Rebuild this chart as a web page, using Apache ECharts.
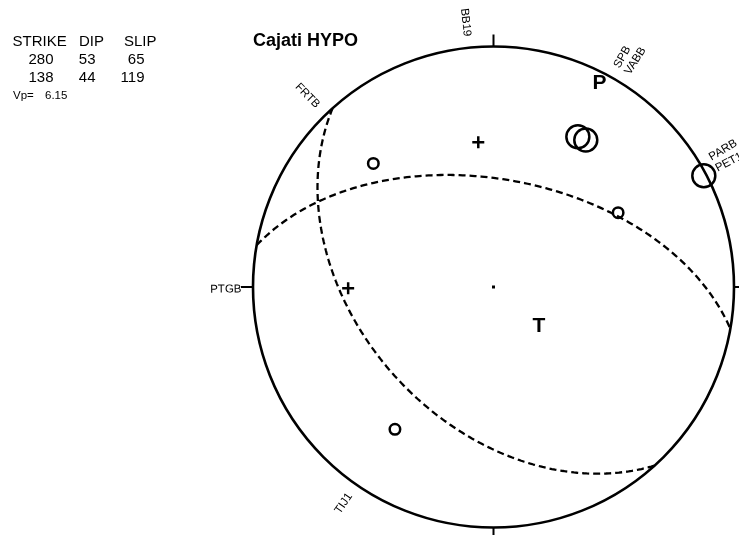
<!DOCTYPE html>
<html>
<head>
<meta charset="utf-8">
<script src="https://cdn.jsdelivr.net/npm/echarts@6/dist/echarts.min.js"></script>
<style>html,body{margin:0;padding:0;background:#fff}#c{width:739px;height:535px}</style>
</head>
<body>
<div id="c"></div>
<script>
// ---- data ----
const chartTitle = 'Cajati HYPO';
const tableHeaders = ['STRIKE', 'DIP', 'SLIP'];
const strikes = [280, 138];
const dips = [53, 44];
const slips = [65, 119];
const vpLabel = 'Vp=';
const vpValue = '6.15';
const stations = ['BB19', 'FRTB', 'SPB', 'VABB', 'PARB', 'PET1', 'PTGB', 'TIJ1'];
const azimuths = [354.0, 315.8, 29.3, 32.1, 59.2, 62.1, 269.5, 214.7];
const takeoffs = [50.7, 60.9, 60.9, 61.4, 50.5, 88.8, 50.6, 61.2];
const polarities = ['C', 'D', 'D', 'D', 'D', 'D', 'C', 'D'];
const onsets = ['E', 'E', 'I', 'I', 'E', 'I', 'E', 'E'];

// ---- helpers ----
const D = Math.PI / 180;
const FONT = '"Liberation Sans", Arial, Helvetica, sans-serif';
function norm(v) { const l = Math.hypot(v[0], v[1], v[2]); return v.map(a => a / l); }
// v = [E, N, Down] unit vector -> lower-hemisphere equal-area [r, azimuth]
function project(v) {
  if (v[2] < 0) v = v.map(a => -a);
  const r = Math.sqrt(Math.max(0, 1 - v[2]));
  let az = Math.atan2(v[0], v[1]) / D;
  if (az < 0) az += 360;
  return [r, az];
}
function planeCurve(strike, dip) {
  const s = [Math.sin(strike * D), Math.cos(strike * D), 0];
  const dd = (strike + 90) * D;
  const d = [Math.sin(dd) * Math.cos(dip * D), Math.cos(dd) * Math.cos(dip * D), Math.sin(dip * D)];
  const pts = [];
  for (let t = 0; t <= 180; t += 1) {
    const c = Math.cos(t * D), sn = Math.sin(t * D);
    pts.push(project([c * s[0] + sn * d[0], c * s[1] + sn * d[1], c * s[2] + sn * d[2]]));
  }
  return pts;
}
function ptAxes(strike, dip, rake) {
  const f = strike * D, d = dip * D, l = rake * D;
  // Aki-Richards, [N, E, Down]
  const n = [-Math.sin(d) * Math.sin(f), Math.sin(d) * Math.cos(f), -Math.cos(d)];
  const u = [Math.cos(l) * Math.cos(f) + Math.sin(l) * Math.cos(d) * Math.sin(f),
             Math.cos(l) * Math.sin(f) - Math.sin(l) * Math.cos(d) * Math.cos(f),
             -Math.sin(l) * Math.sin(d)];
  const T = norm([n[0] + u[0], n[1] + u[1], n[2] + u[2]]);
  const P = norm([n[0] - u[0], n[1] - u[1], n[2] - u[2]]);
  return { P: project([P[1], P[0], P[2]]), T: project([T[1], T[0], T[2]]) };
}
const axesPT = ptAxes(strikes[0], dips[0], slips[0]);

const plusPath = 'path://M4.75,0H7.25V4.75H12V7.25H7.25V12H4.75V7.25H0V4.75H4.75Z';
const obsData = stations.map((name, i) => {
  const r = Math.SQRT2 * Math.sin(takeoffs[i] * D / 2);
  const item = { name, value: [r, azimuths[i]] };
  if (polarities[i] === 'C') {
    item.symbol = plusPath; item.symbolSize = 12;
    item.itemStyle = { color: '#000', borderWidth: 0, opacity: 1 };
  } else {
    item.symbol = 'circle'; item.symbolSize = onsets[i] === 'I' ? 23 : 10.5;
    item.itemStyle = { color: 'rgba(0,0,0,0)', borderColor: '#000', borderWidth: 2.5, opacity: 1 };
  }
  return item;
});
const labelData = stations.map((name, i) => {
  const az = azimuths[i];
  const left = az >= 180;
  return {
    name, value: [1.048, az],
    label: { show: true, formatter: name, position: 'inside', rotate: left ? 270 - az : 90 - az,
             align: left ? 'right' : 'left', verticalAlign: 'middle' }
  };
});

function txt(s, x, y, size, weight, align) {
  const a = align || 'left';
  return { type: 'text', x: x, y: y, silent: true,
    style: { text: s, font: (weight || 'normal') + ' ' + size + 'px ' + FONT, fill: '#000',
             align: a, textAlign: a, verticalAlign: 'middle', textVerticalAlign: 'middle' } };
}
const rowsY = [42.3, 60, 77.5];
const headerX = [12.5, 79, 124];
const valueX = [53.5, 95.5, 144.5];
const graphics = [txt(chartTitle, 253, 41.5, 18, 'bold')];
tableHeaders.forEach((h, j) => graphics.push(txt(h, headerX[j], rowsY[0], 15)));
[0, 1].forEach(k => {
  [strikes[k], dips[k], slips[k]].forEach((v, j) => graphics.push(txt(String(v), valueX[j], rowsY[k + 1], 15, 'normal', 'right')));
});
graphics.push(txt(vpLabel, 13, 95.7, 11.5));
graphics.push(txt(vpValue, 45, 95.7, 11.5));

const chart = echarts.init(document.getElementById('c'), null, { renderer: 'canvas' });
chart.setOption({
  animation: false,
  backgroundColor: '#fff',
  textStyle: { fontFamily: FONT },
  polar: { center: [493.5, 287], radius: 240.5 },
  angleAxis: {
    type: 'value', min: 0, max: 360, interval: 90, startAngle: 90, clockwise: true,
    axisLine: { show: true, lineStyle: { color: '#000', width: 2.6 } },
    axisTick: { show: true, length: 12, lineStyle: { color: '#000', width: 2 } },
    axisLabel: { show: false }, splitLine: { show: false }, splitArea: { show: false }
  },
  radiusAxis: { type: 'value', min: 0, max: 1, show: false, splitLine: { show: false } },
  graphic: graphics,
  series: [
    ...strikes.map((s, k) => ({
      type: 'line', coordinateSystem: 'polar', clip: false, showSymbol: false, symbol: 'none',
      data: planeCurve(s, dips[k]),
      lineStyle: { color: '#000', width: 2.3, type: [7, 4], opacity: 1 }, silent: true
    })),
    {
      type: 'scatter', coordinateSystem: 'polar', clip: false, data: obsData, silent: true,
      itemStyle: { opacity: 1 }
    },
    {
      type: 'scatter', coordinateSystem: 'polar', clip: false, data: labelData, symbolSize: 1, silent: true,
      itemStyle: { color: 'rgba(0,0,0,0)', opacity: 1 },
      label: { color: '#000', fontSize: 11.5, fontFamily: FONT, opacity: 1 }
    },
    {
      type: 'scatter', coordinateSystem: 'polar', clip: false, symbolSize: 1, silent: true,
      itemStyle: { color: 'rgba(0,0,0,0)', opacity: 1 },
      data: [{ name: 'P', value: axesPT.P }, { name: 'T', value: axesPT.T }],
      label: { show: true, position: 'inside', formatter: '{b}', color: '#000', fontSize: 21, fontWeight: 'bold', fontFamily: FONT, opacity: 1 }
    },
    {
      type: 'scatter', coordinateSystem: 'polar', clip: false, silent: true,
      symbol: 'rect', symbolSize: 3, itemStyle: { color: '#000', opacity: 1 }, data: [[0, 0]]
    }
  ]
});
</script>
</body>
</html>
